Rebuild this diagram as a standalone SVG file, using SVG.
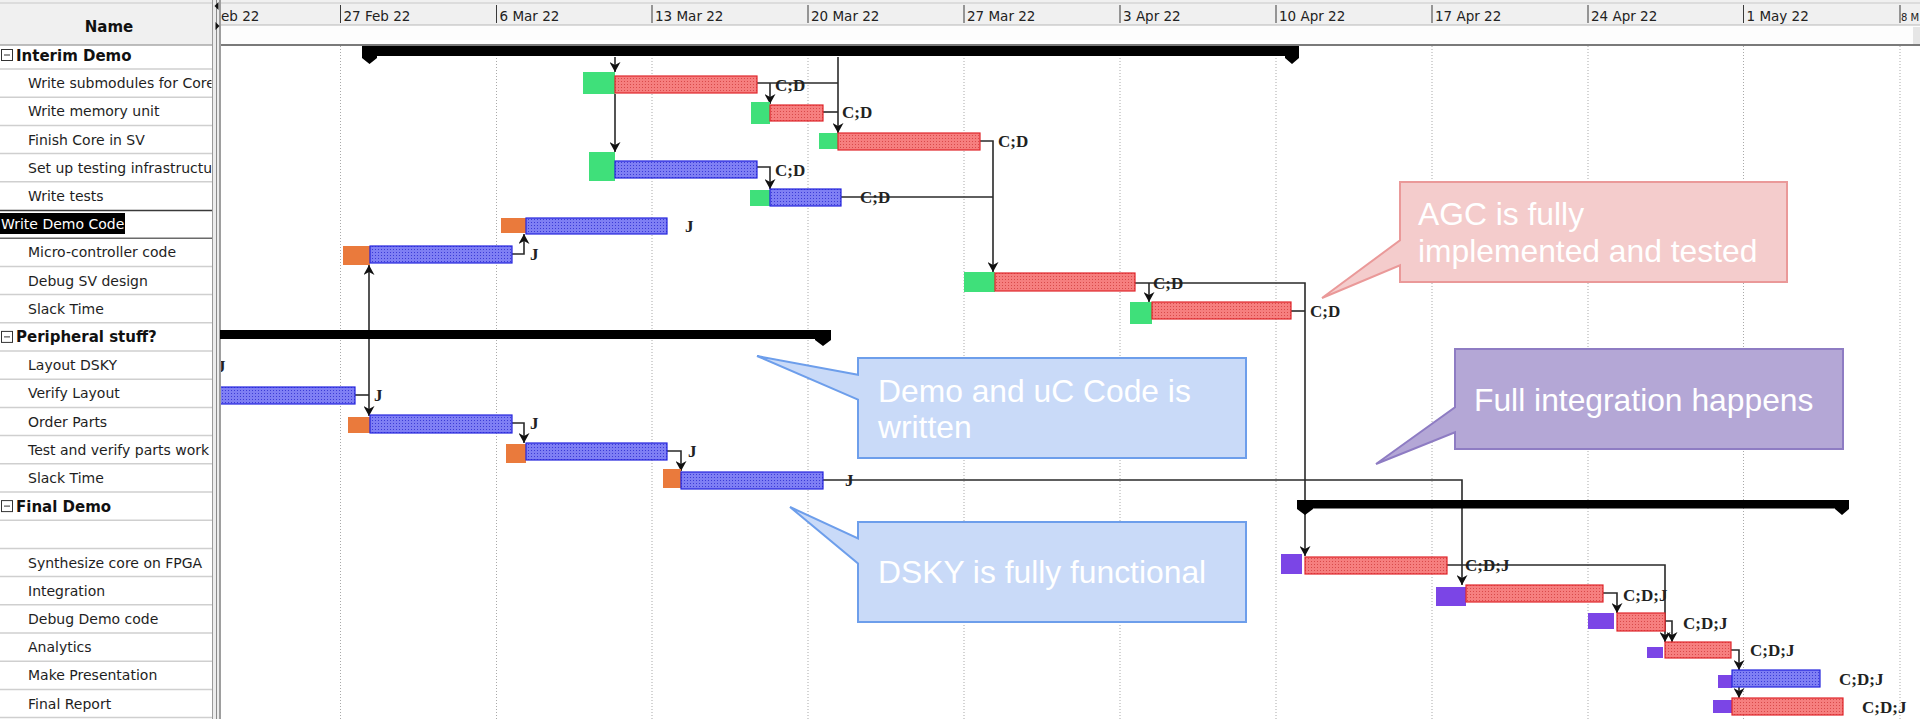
<svg xmlns="http://www.w3.org/2000/svg" width="1920" height="719" viewBox="0 0 1920 719">
<defs>
  <style>
    .name{font-family:"DejaVu Sans","Liberation Sans",sans-serif;font-size:14px;fill:#1e1e1e}
    .grp{font-family:"DejaVu Sans","Liberation Sans",sans-serif;font-size:15px;font-weight:bold;fill:#111}
    .date{font-family:"DejaVu Sans","Liberation Sans",sans-serif;font-size:13.5px;fill:#222}
    .res{font-family:"Liberation Serif","Times New Roman",serif;font-size:17px;font-weight:bold;fill:#222}
    .sep{stroke:#cfcfcf;stroke-width:1.5}
    .grid{stroke:#a9a9a9;stroke-width:1;stroke-dasharray:1 2}
    .tick{stroke:#3a3a3a;stroke-width:1}
    .link{fill:none;stroke:#2a2a2a;stroke-width:1.6}
    .arr{marker-end:url(#ah)}
    .red{fill:url(#redFill);stroke:#e0262b;stroke-width:1.2}
    .blue{fill:url(#blueFill);stroke:#2424dc;stroke-width:1.2}
    .grn{fill:#3fe07a}
    .org{fill:#ea7a3c}
    .pur{fill:#7b45e6}
    .sum{fill:#000}
    .minus{fill:#fff;stroke:#333;stroke-width:1}
    .co-text{font-family:"Liberation Sans",Arial,sans-serif;font-size:31.8px;fill:#fff}
    .co-pink{fill:#f4cccc;stroke:#ea9999;stroke-width:2}
    .co-blue{fill:#c9daf8;stroke:#6d9eeb;stroke-width:2}
    .co-pur{fill:#b4a7d6;stroke:#8e7cc3;stroke-width:2}
  </style>
  <pattern id="redFill" width="3" height="3" patternUnits="userSpaceOnUse">
    <rect width="3" height="3" fill="#f67f7f"/>
    <rect width="1" height="1" fill="#d84a4a"/>
  </pattern>
  <pattern id="blueFill" width="3" height="3" patternUnits="userSpaceOnUse">
    <rect width="3" height="3" fill="#7f7ff4"/>
    <rect width="1" height="1" fill="#3c3cd6"/>
  </pattern>
  <marker id="ah" viewBox="0 0 10 11" refX="10" refY="5.5" markerWidth="10" markerHeight="11" markerUnits="userSpaceOnUse" orient="auto">
    <path d="M0,0 L10,5.5 L0,11 L3,5.5 Z" fill="#111"/>
  </marker>
  <clipPath id="nameCol"><rect x="0" y="45" width="211.5" height="674"/></clipPath>
  <clipPath id="chartArea"><rect x="221" y="45" width="1699" height="674"/></clipPath>
</defs>

<!-- background -->
<rect x="0" y="0" width="1920" height="719" fill="#fff"/>

<!-- header -->
<g id="header">
  <rect x="0" y="0" width="1920" height="45" fill="#f0f0f0"/>
  <rect x="221" y="25" width="1699" height="20" fill="#fdfdfd"/>
  <rect x="1913" y="27" width="7" height="17" fill="#e6e6e6"/>
  <line x1="0" y1="3" x2="1920" y2="3" stroke="#c8c8c8" stroke-width="1"/>
  <line x1="221" y1="25" x2="1920" y2="25" stroke="#b8b8b8" stroke-width="1"/>
  <line x1="0" y1="45" x2="212" y2="45" stroke="#a8a8a8" stroke-width="1.5"/>
  <line x1="221" y1="45" x2="1920" y2="45" stroke="#7a7a7a" stroke-width="2"/>
  <text x="109" y="31.5" text-anchor="middle" class="grp">Name</text>
  <g>
    <text x="221" y="21" class="date">eb 22</text>
    <line x1="340.5" y1="5" x2="340.5" y2="23" class="tick"/><text x="343.5" y="21" class="date">27 Feb 22</text>
    <line x1="496.5" y1="5" x2="496.5" y2="23" class="tick"/><text x="499.5" y="21" class="date">6 Mar 22</text>
    <line x1="652" y1="5" x2="652" y2="23" class="tick"/><text x="655" y="21" class="date">13 Mar 22</text>
    <line x1="808" y1="5" x2="808" y2="23" class="tick"/><text x="811" y="21" class="date">20 Mar 22</text>
    <line x1="964" y1="5" x2="964" y2="23" class="tick"/><text x="967" y="21" class="date">27 Mar 22</text>
    <line x1="1120" y1="5" x2="1120" y2="23" class="tick"/><text x="1123" y="21" class="date">3 Apr 22</text>
    <line x1="1276" y1="5" x2="1276" y2="23" class="tick"/><text x="1279" y="21" class="date">10 Apr 22</text>
    <line x1="1432" y1="5" x2="1432" y2="23" class="tick"/><text x="1435" y="21" class="date">17 Apr 22</text>
    <line x1="1588" y1="5" x2="1588" y2="23" class="tick"/><text x="1591" y="21" class="date">24 Apr 22</text>
    <line x1="1743.5" y1="5" x2="1743.5" y2="23" class="tick"/><text x="1746.5" y="21" class="date">1 May 22</text>
    <line x1="1900" y1="5" x2="1900" y2="23" class="tick"/><text x="1901" y="21" class="date" style="font-size:10px">8 M</text>
  </g>
</g>

<!-- name column grid -->
<g id="name-grid">
  <line x1="0" y1="69" x2="212" y2="69" class="sep"/>
  <line x1="0" y1="97.2" x2="212" y2="97.2" class="sep"/>
  <line x1="0" y1="125.4" x2="212" y2="125.4" class="sep"/>
  <line x1="0" y1="153.6" x2="212" y2="153.6" class="sep"/>
  <line x1="0" y1="181.8" x2="212" y2="181.8" class="sep"/>
  <line x1="0" y1="210.5" x2="212" y2="210.5" stroke="#3a3a3a" stroke-width="1.5"/>
  <line x1="0" y1="238.2" x2="212" y2="238.2" stroke="#6a6a6a" stroke-width="1.5"/>
  <line x1="0" y1="266.4" x2="212" y2="266.4" class="sep"/>
  <line x1="0" y1="294.6" x2="212" y2="294.6" class="sep"/>
  <line x1="0" y1="322.8" x2="212" y2="322.8" class="sep"/>
  <line x1="0" y1="351" x2="212" y2="351" class="sep"/>
  <line x1="0" y1="379.2" x2="212" y2="379.2" class="sep"/>
  <line x1="0" y1="407.4" x2="212" y2="407.4" class="sep"/>
  <line x1="0" y1="435.6" x2="212" y2="435.6" class="sep"/>
  <line x1="0" y1="463.8" x2="212" y2="463.8" class="sep"/>
  <line x1="0" y1="492" x2="212" y2="492" class="sep"/>
  <line x1="0" y1="520.2" x2="212" y2="520.2" class="sep"/>
  <line x1="0" y1="548.4" x2="212" y2="548.4" class="sep"/>
  <line x1="0" y1="576.6" x2="212" y2="576.6" class="sep"/>
  <line x1="0" y1="604.8" x2="212" y2="604.8" class="sep"/>
  <line x1="0" y1="633" x2="212" y2="633" class="sep"/>
  <line x1="0" y1="661.2" x2="212" y2="661.2" class="sep"/>
  <line x1="0" y1="689.4" x2="212" y2="689.4" class="sep"/>
  <line x1="0" y1="717.6" x2="212" y2="717.6" class="sep"/>
</g>

<!-- splitter between table and chart -->
<g id="splitter">
  <rect x="212" y="0" width="9" height="719" fill="#ececec"/>
  <line x1="212.5" y1="0" x2="212.5" y2="719" stroke="#9a9a9a" stroke-width="1"/>
  <line x1="216.5" y1="0" x2="216.5" y2="719" stroke="#8a8a8a" stroke-width="1"/>
  <line x1="220" y1="0" x2="220" y2="719" stroke="#6a6a6a" stroke-width="1.2"/>
  <polygon points="218.5,2 214.5,6 218.5,10" fill="#111"/>
  <polygon points="215.5,22 219.5,26 215.5,30" fill="#111"/>
</g>

<!-- week grid -->
<g id="week-grid">
  <line x1="340.5" y1="46" x2="340.5" y2="719" class="grid"/>
  <line x1="496.5" y1="46" x2="496.5" y2="719" class="grid"/>
  <line x1="652" y1="46" x2="652" y2="719" class="grid"/>
  <line x1="808" y1="46" x2="808" y2="719" class="grid"/>
  <line x1="964" y1="46" x2="964" y2="719" class="grid"/>
  <line x1="1120" y1="46" x2="1120" y2="719" class="grid"/>
  <line x1="1276" y1="46" x2="1276" y2="719" class="grid"/>
  <line x1="1432" y1="46" x2="1432" y2="719" class="grid"/>
  <line x1="1588" y1="46" x2="1588" y2="719" class="grid"/>
  <line x1="1743.5" y1="46" x2="1743.5" y2="719" class="grid"/>
  <line x1="1900" y1="46" x2="1900" y2="719" class="grid"/>
</g>

<!-- dependency links -->
<g id="connectors">
  <path d="M615,57 V72" class="link arr"/>
  <path d="M615,94 V152" class="link arr"/>
  <path d="M757,83 H838" class="link"/>
  <path d="M838,57 V133" class="link arr"/>
  <path d="M770,83 V104" class="link arr"/>
  <path d="M823,112 H838" class="link"/>
  <path d="M980,141 H993 V272" class="link arr"/>
  <path d="M841,197 H993" class="link"/>
  <path d="M757,167 H770 V189" class="link arr"/>
  <path d="M1135,283 H1305 V556" class="link arr"/>
  <path d="M1149,283 V302" class="link arr"/>
  <path d="M1291,311 H1305" class="link"/>
  <path d="M355,395 H369" class="link"/>
  <path d="M369,395 V265" class="link arr"/>
  <path d="M369,395 V416" class="link arr"/>
  <path d="M512,254 H524 V234" class="link arr"/>
  <path d="M512,423 H524 V443" class="link arr"/>
  <path d="M667,451 H681 V471" class="link arr"/>
  <path d="M823,480 H1462 V585" class="link arr"/>
  <path d="M1447,565 H1665 V642" class="link arr"/>
  <path d="M1603,593 H1617 V613" class="link arr"/>
  <path d="M1665,621 H1672 V642" class="link arr"/>
  <path d="M1731,650 H1739 V670" class="link arr"/>
  <path d="M1739,687 V698" class="link arr"/>
</g>

<!-- tasks -->
<g id="task-interim-demo">
  <rect x="1.5" y="49.5" width="11" height="11" class="minus"/><line x1="4" y1="55" x2="10" y2="55" stroke="#333"/>
  <text x="16" y="61" class="grp">Interim Demo</text>
  <path d="M362,46 H1299 V58 L1292,64 L1285,58 V56 H377 V58 L369.5,64 L362,58 Z" class="sum"/>
</g>
<g id="task-write-submodules">
  <text x="28" y="88" class="name" clip-path="url(#nameCol)">Write submodules for Core</text>
  <rect x="583" y="72" width="32" height="22" class="grn"/>
  <rect x="615" y="76" width="142" height="17" class="red"/>
  <text x="775" y="90.6" class="res">C;D</text>
</g>
<g id="task-write-memory-unit">
  <text x="28" y="116.3" class="name">Write memory unit</text>
  <rect x="751" y="102" width="19" height="22" class="grn"/>
  <rect x="770" y="105" width="53" height="16" class="red"/>
  <text x="842" y="118" class="res">C;D</text>
</g>
<g id="task-finish-core">
  <text x="28" y="144.5" class="name">Finish Core in SV</text>
  <rect x="819" y="133" width="19" height="16" class="grn"/>
  <rect x="838" y="133" width="142" height="17" class="red"/>
  <text x="998" y="146.6" class="res">C;D</text>
</g>
<g id="task-testing-infrastructure">
  <text x="28" y="172.7" class="name" clip-path="url(#nameCol)">Set up testing infrastructu</text>
  <rect x="589" y="152" width="26" height="29" class="grn"/>
  <rect x="615" y="161" width="142" height="17" class="blue"/>
  <text x="775" y="175.6" class="res">C;D</text>
</g>
<g id="task-write-tests">
  <text x="28" y="200.9" class="name">Write tests</text>
  <rect x="750" y="190" width="20" height="16" class="grn"/>
  <rect x="770" y="189" width="71" height="17" class="blue"/>
  <text x="860" y="202.6" class="res">C;D</text>
</g>
<g id="task-write-demo-code">
  <rect x="0" y="213" width="125" height="21" fill="#000"/>
  <text x="1" y="229.1" class="name" style="fill:#fff">Write Demo Code</text>
  <rect x="501" y="218" width="25" height="15" class="org"/>
  <rect x="526" y="218" width="141" height="16" class="blue"/>
  <text x="685" y="231.6" class="res">J</text>
</g>
<g id="task-micro-controller">
  <text x="28" y="257.3" class="name">Micro-controller code</text>
  <rect x="343" y="246" width="27" height="19" class="org"/>
  <rect x="370" y="246" width="142" height="17" class="blue"/>
  <text x="530" y="259.6" class="res">J</text>
</g>
<g id="task-debug-sv">
  <text x="28" y="285.5" class="name">Debug SV design</text>
  <rect x="964" y="272" width="31" height="20" class="grn"/>
  <rect x="995" y="273" width="140" height="18" class="red"/>
  <text x="1153" y="288.6" class="res">C;D</text>
</g>
<g id="task-slack-core">
  <text x="28" y="313.7" class="name">Slack Time</text>
  <rect x="1130" y="302" width="22" height="22" class="grn"/>
  <rect x="1152" y="302" width="139" height="17" class="red"/>
  <text x="1310" y="316.6" class="res">C;D</text>
</g>
<g id="task-peripheral">
  <rect x="1.5" y="331.4" width="11" height="11" class="minus"/><line x1="4" y1="336.9" x2="10" y2="336.9" stroke="#333"/>
  <text x="16" y="342.4" class="grp">Peripheral stuff?</text>
  <path d="M220,330 H831 V340 L823,346 L815,340 V339 H220 Z" class="sum"/>
</g>
<g id="task-layout-dsky">
  <text x="28" y="370.1" class="name">Layout DSKY</text>
  <text x="217" y="371.6" class="res" clip-path="url(#chartArea)">J</text>
</g>
<g id="task-verify-layout">
  <text x="28" y="398.3" class="name">Verify Layout</text>
  <rect x="219" y="387" width="136" height="17" class="blue" clip-path="url(#chartArea)"/>
  <text x="374" y="400.6" class="res">J</text>
</g>
<g id="task-order-parts">
  <text x="28" y="426.5" class="name">Order Parts</text>
  <rect x="348" y="417" width="22" height="16" class="org"/>
  <rect x="370" y="415" width="142" height="18" class="blue"/>
  <text x="530" y="428.6" class="res">J</text>
</g>
<g id="task-test-parts">
  <text x="28" y="454.7" class="name" clip-path="url(#nameCol)">Test and verify parts work</text>
  <rect x="506" y="444" width="20" height="19" class="org"/>
  <rect x="526" y="443" width="141" height="17" class="blue"/>
  <text x="688" y="456.6" class="res">J</text>
</g>
<g id="task-slack-peripheral">
  <text x="28" y="482.9" class="name">Slack Time</text>
  <rect x="663" y="469" width="18" height="19" class="org"/>
  <rect x="681" y="472" width="142" height="17" class="blue"/>
  <text x="845" y="485.6" class="res">J</text>
</g>
<g id="task-final-demo">
  <rect x="1.5" y="500.6" width="11" height="11" class="minus"/><line x1="4" y1="506.1" x2="10" y2="506.1" stroke="#333"/>
  <text x="16" y="511.6" class="grp">Final Demo</text>
  <path d="M1297,500 H1849 V509 L1842,515 L1835,509 V508.5 H1313 V509 L1305,515 L1297,509 Z" class="sum"/>
</g>
<g id="task-synthesize">
  <text x="28" y="567.5" class="name">Synthesize core on FPGA</text>
  <rect x="1281" y="554" width="21" height="20" class="pur"/>
  <rect x="1305" y="557" width="142" height="17" class="red"/>
  <text x="1465" y="570.6" class="res">C;D;J</text>
</g>
<g id="task-integration">
  <text x="28" y="595.7" class="name">Integration</text>
  <rect x="1436" y="587" width="30" height="19" class="pur"/>
  <rect x="1466" y="585" width="137" height="17" class="red"/>
  <text x="1623" y="600.6" class="res">C;D;J</text>
</g>
<g id="task-debug-demo">
  <text x="28" y="623.9" class="name">Debug Demo code</text>
  <rect x="1588" y="613" width="26" height="16" class="pur"/>
  <rect x="1617" y="613" width="48" height="18" class="red"/>
  <text x="1683" y="628.6" class="res">C;D;J</text>
</g>
<g id="task-analytics">
  <text x="28" y="652.1" class="name">Analytics</text>
  <rect x="1647" y="647" width="16" height="11" class="pur"/>
  <rect x="1665" y="642" width="66" height="16" class="red"/>
  <text x="1750" y="655.6" class="res">C;D;J</text>
</g>
<g id="task-presentation">
  <text x="28" y="680.3" class="name">Make Presentation</text>
  <rect x="1718" y="675" width="14" height="13" class="pur"/>
  <rect x="1732" y="670" width="88" height="17" class="blue"/>
  <text x="1839" y="684.6" class="res">C;D;J</text>
</g>
<g id="task-final-report">
  <text x="28" y="708.5" class="name">Final Report</text>
  <rect x="1713" y="700" width="20" height="13" class="pur"/>
  <rect x="1732" y="698" width="111" height="17" class="red"/>
  <text x="1862" y="712.6" class="res">C;D;J</text>
</g>

<!-- milestone notes -->
<g id="note-agc">
  <path d="M1400,182 H1787 V282 H1400 V265.3 L1322,298 L1400,240.3 Z" class="co-pink"/>
  <text x="1418" y="225" class="co-text">AGC is fully</text>
  <text x="1418" y="261.7" class="co-text">implemented and tested</text>
</g>
<g id="note-demo-code">
  <path d="M858,358 H1246 V458 H858 V399.7 L757,356 L858,374.7 Z" class="co-blue"/>
  <text x="878" y="401.5" class="co-text">Demo and uC Code is</text>
  <text x="878" y="438" class="co-text">written</text>
</g>
<g id="note-dsky">
  <path d="M858,522 H1246 V622 H858 V563.4 L790,507 L858,538.4 Z" class="co-blue"/>
  <text x="878" y="583" class="co-text">DSKY is fully functional</text>
</g>
<g id="note-integration">
  <path d="M1455,349 H1843 V449 H1455 V432.3 L1376,464 L1455,407.3 Z" class="co-pur"/>
  <text x="1474" y="411" class="co-text">Full integration happens</text>
</g>
</svg>
